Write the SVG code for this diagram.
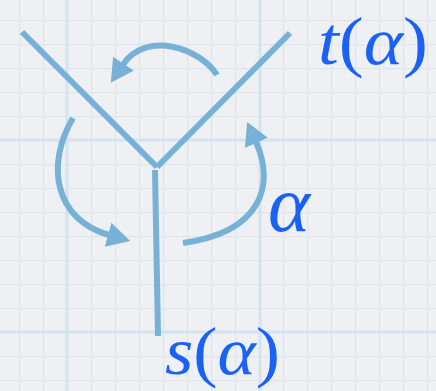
<svg xmlns="http://www.w3.org/2000/svg" width="436" height="391" viewBox="0 0 436 391">
<style>
.bg{fill:#eef0f3}
.minor{stroke:#dfe6eb;stroke-width:1.5;fill:none}
.major{stroke:#d4e3ec;stroke-width:3;fill:none}
.edge{stroke:#77b1d6;stroke-width:6;fill:none;stroke-linecap:butt}
.turn{stroke:#77b1d6;stroke-width:6;fill:none;marker-end:url(#ah)}
.lbl{font-family:'Liberation Serif',serif;font-size:68px;fill:#1a62f5}
.big{font-size:80px}
.it{font-style:italic}
</style>
<defs>
<pattern id="grid" x="19" y="20" width="24" height="24" patternUnits="userSpaceOnUse">
<path class="minor" d="M0.5,0V24M0,0.5H24"/>
</pattern>
<marker id="ah" markerUnits="userSpaceOnUse" markerWidth="26" markerHeight="28" refX="1" refY="12.5" orient="auto" viewBox="0 0 26 26">
<path d="M0,0 L23,12.5 L0,25 z" fill="#77b1d6"/>
</marker>
</defs>
<rect class="bg" x="0" y="0" width="436" height="391"/>
<rect x="0" y="0" width="436" height="391" fill="url(#grid)"/>
<path class="major" d="M67,0V391M260,0V391M0,140H436M0,332H436"/>
<g id="edges">
<path id="e-left" class="edge" d="M22,32 L157,167"/>
<path id="e-right" class="edge" d="M290,33 L157,167"/>
<path id="e-bottom" class="edge" d="M155,170 L158,336"/>
</g>
<g id="connectors">
<path id="arc-top" class="turn" d="M217,75 C200,48 146,30 123,64.5"/>
<path id="arc-left" class="turn" d="M73,118 C45,165 55,220 109,235"/>
<path id="arc-right" class="turn" d="M183,243 C262,232 275,185 256,142"/>
</g>
<g id="label-t">
<text class="lbl" x="318" y="64" textLength="110" lengthAdjust="spacingAndGlyphs"><tspan class="it">t</tspan>(<tspan class="it">α</tspan>)</text>
</g>
<g id="label-s">
<text class="lbl" x="165" y="374" textLength="115" lengthAdjust="spacingAndGlyphs"><tspan class="it">s</tspan>(<tspan class="it">α</tspan>)</text>
</g>
<g id="label-alpha">
<text class="lbl big it" x="268" y="231">α</text>
</g>
</svg>
